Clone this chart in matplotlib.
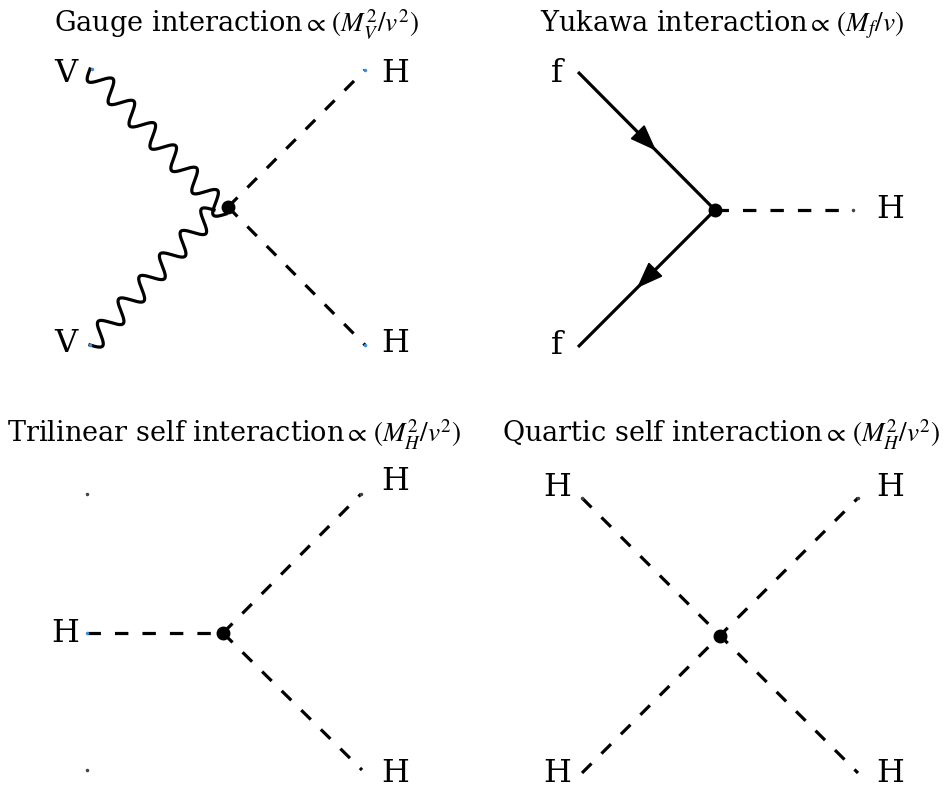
import numpy as np
import matplotlib
matplotlib.use("Agg")
from matplotlib import pyplot as plt
from matplotlib.patches import Polygon

plt.rcParams['font.family'] = ['DejaVu Serif']
plt.rcParams['mathtext.fontset'] = 'stix'

# diagram data (pixel coordinates of the picture, y downwards)
titles = [r"Gauge interaction$\propto\,(M_V^2/v^2)$",
          r"Yukawa interaction$\propto\,(M_f/v)$",
          r"Trilinear self interaction$\propto\,(M_H^2/v^2)$",
          r"Quartic self interaction$\propto\,(M_H^2/v^2)$"]
title_pos = [(236, 25), (722, 25), (234, 435), (721, 435)]

vertices = [(228, 207), (715, 210), (223, 633), (720, 636)]

# photon (wavy) lines: start, end, number of wiggles
boson_lines = [((90, 69), (226, 214), 6.5), ((90, 345), (214, 210), 6.0)]
# fermion lines: start, end (arrow in the middle)
fermion_lines = [((578, 72), (715, 210)), ((715, 210), (578, 347))]
# scalar (dashed) lines
scalar_lines = [((228, 207), (365, 70)), ((228, 207), (365, 345)),
                ((715, 210), (853, 210)),
                ((87, 633), (223, 633)), ((223, 633), (361, 494)), ((223, 633), (362, 770)),
                ((582, 498), (858, 773)), ((582, 773), (858, 498))]

labels = ['V', 'V', 'H', 'H',
          'f', 'f', 'H',
          'H', 'H', 'H',
          'H', 'H', 'H', 'H']
label_pos = [(66, 73), (66, 343), (395, 73), (395, 343),
             (557, 73), (557, 345), (890, 210),
             (65, 633), (395, 482), (395, 773),
             (557, 488), (890, 488), (557, 773), (890, 773)]

# tiny leftover end points in the original drawing
blue_dots = [(92, 69), (90, 345), (365, 70), (365, 345), (87, 633)]
grey_dots = [(853, 210), (87, 494), (87, 770), (361, 494), (582, 498), (858, 498)]

fig = plt.figure(figsize=(9.44, 7.92), dpi=100)
ax = fig.add_axes([0, 0, 1, 1])
ax.set_xlim(0, 944)
ax.set_ylim(792, 0)
ax.axis('off')

lw = 2.3

for (x0, y0), (x1, y1) in scalar_lines:
    ax.plot([x0, x1], [y0, y1], color='black', lw=lw, dashes=(4.2, 4.4), solid_capstyle='butt')

for (x0, y0), (x1, y1), n in boson_lines:
    d = np.array([x1 - x0, y1 - y0], dtype=float)
    length = np.hypot(*d)
    u = d / length
    perp = np.array([-u[1], u[0]])
    t = np.linspace(0, 1, 600)
    off = 10 * np.sin(2 * np.pi * n * t)
    xs = x0 + d[0] * t + perp[0] * off
    ys = y0 + d[1] * t + perp[1] * off
    ax.plot(xs, ys, color='black', lw=lw)

for (x0, y0), (x1, y1) in fermion_lines:
    ax.plot([x0, x1], [y0, y1], color='black', lw=lw, solid_capstyle='butt')
    d = np.array([x1 - x0, y1 - y0], dtype=float)
    u = d / np.hypot(*d)
    perp = np.array([-u[1], u[0]])
    tip = np.array([x0, y0]) + d * 0.56
    base = tip - u * 24
    tri = [tip, base + perp * 9, base - perp * 9]
    ax.add_patch(Polygon(tri, closed=True, color='black'))

for x, y in vertices:
    ax.plot(x, y, 'o', color='black', markersize=9)

for x, y in blue_dots:
    ax.plot(x, y, 'o', color='#3f8fe0', markersize=1.5)
for x, y in grey_dots:
    ax.plot(x, y, 'o', color='#444444', markersize=1.5)

for txt, (x, y) in zip(labels, label_pos):
    ax.text(x, y, txt, fontsize=23, ha='center', va='center')

for txt, (x, y) in zip(titles, title_pos):
    ax.text(x, y, txt, fontsize=19.5, ha='center', va='center')

fig.savefig('out.png', dpi=100)
